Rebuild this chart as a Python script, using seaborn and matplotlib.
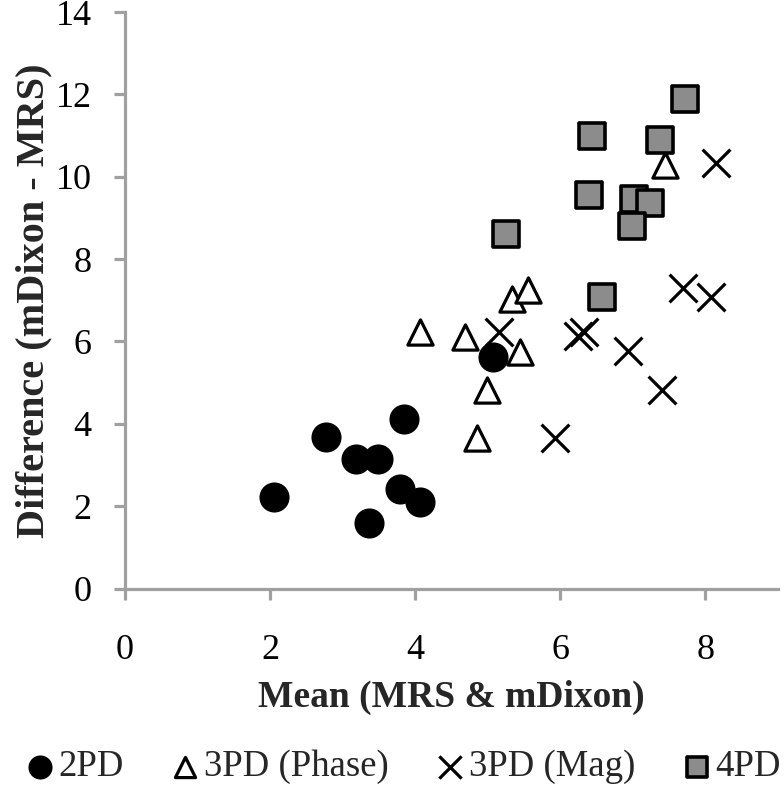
import numpy as np
import matplotlib
matplotlib.use("Agg")
import matplotlib.pyplot as plt
import seaborn as sns

# 2PD
pd2_x = [2.05, 2.77, 3.18, 3.49, 3.84, 3.79, 4.07, 3.36, 5.07]
pd2_y = [2.23, 3.67, 3.14, 3.14, 4.11, 2.41, 2.09, 1.58, 5.61]
# 3PD (Phase)
ph_x = [4.06, 4.68, 4.99, 4.85, 5.45, 5.33, 5.56, 7.44]
ph_y = [6.23, 6.11, 4.82, 3.65, 5.75, 7.04, 7.24, 10.28]
# 3PD (Mag)
mag_x = [5.16, 6.24, 6.32, 6.93, 7.40, 5.92, 8.14, 7.69, 8.08]
mag_y = [6.23, 6.12, 6.22, 5.77, 4.82, 3.65, 10.34, 7.29, 7.08]
# 4PD
pd4_x = [7.72, 6.44, 7.37, 6.39, 7.01, 7.24, 6.99, 5.25, 6.58]
pd4_y = [11.88, 11.00, 10.90, 9.55, 9.47, 9.35, 8.80, 8.62, 7.07]

labels = ["2PD", "3PD (Phase)", "3PD (Mag)", "4PD"]

sns.set_style("white")
plt.rcParams["font.family"] = ["Liberation Serif", "DejaVu Serif"]

fig = plt.figure(figsize=(7.84, 7.92), dpi=100)
ax = fig.add_axes([125 / 784, 1 - 588.5 / 792, 653 / 784, 576.5 / 792])

sns.scatterplot(x=pd2_x, y=pd2_y, ax=ax, marker="o", color="black",
                edgecolor="black", s=470, linewidth=0, label=labels[0], zorder=3)
sns.scatterplot(x=ph_x, y=ph_y, ax=ax, marker="^", color="white",
                edgecolor="black", s=330, linewidth=2.3, label=labels[1], zorder=4)
sns.scatterplot(x=mag_x, y=mag_y, ax=ax, marker="x", color="black",
                s=400, linewidth=2.3, label=labels[2], zorder=5)
sns.scatterplot(x=pd4_x, y=pd4_y, ax=ax, marker="s", color="#8c8c8c",
                edgecolor="black", s=340, linewidth=2.6, label=labels[3], zorder=6)

ax.set_xlim(0, 9)
ax.set_ylim(0, 14)
ax.set_xticks([0, 2, 4, 6, 8])
ax.set_yticks(np.arange(0, 15, 2))

sns.despine(ax=ax)
for side in ["left", "bottom"]:
    ax.spines[side].set_color("#a0a0a0")
    ax.spines[side].set_linewidth(2.3)
ax.tick_params(bottom=True, left=True, direction="out", length=8, width=2.3,
               color="#a0a0a0", labelsize=26, labelcolor="black")
ax.tick_params(axis="y", pad=16)
ax.tick_params(axis="x", pad=25)

ax.set_xlabel("Mean (MRS & mDixon)", fontsize=27, fontweight="bold", labelpad=9)
ax.set_ylabel("Difference (mDixon - MRS)", fontsize=29, fontweight="bold", labelpad=2)

handles, labs = ax.get_legend_handles_labels()
ax.get_legend().remove()
fig.legend(handles, labs, loc="center left", bbox_to_anchor=(25 / 784, 1 - 767 / 792),
           ncol=4, frameon=False, fontsize=26.5, markerscale=0.8,
           handletextpad=0.1, columnspacing=1.28, handlelength=0.8,
           borderpad=0, borderaxespad=0)

fig.savefig("out.png", dpi=100)
